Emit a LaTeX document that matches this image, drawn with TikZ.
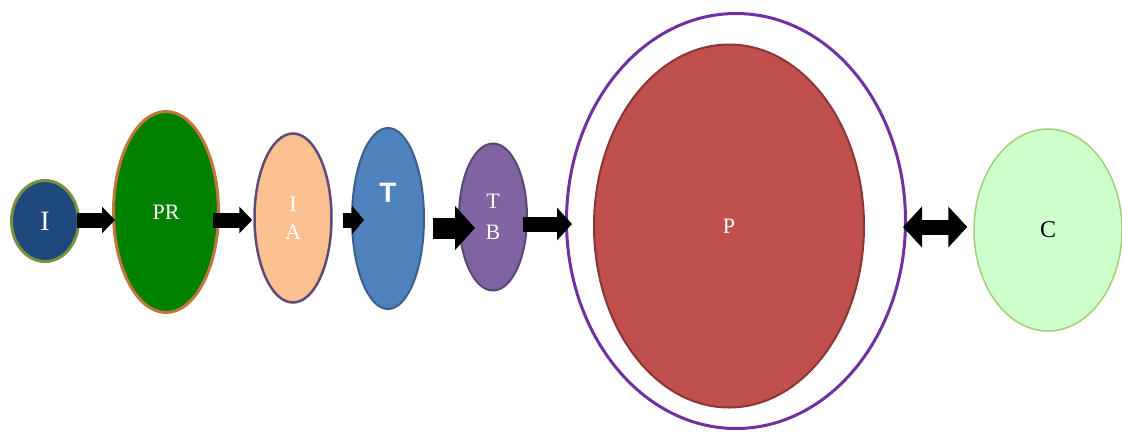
\documentclass[tikz,border=0pt]{standalone}
\usepackage{fontspec}
\setmainfont{Liberation Serif}
\newfontfamily\headfont{Liberation Sans}
\usepackage{tikz}
\usetikzlibrary{arrows.meta,shapes.geometric,positioning}
\definecolor{inkblue}{HTML}{1F497D}
\definecolor{olivebd}{HTML}{76923C}
\definecolor{leafgreen}{HTML}{008000}
\definecolor{rustbd}{HTML}{C0763C}
\definecolor{peach}{HTML}{FAC090}
\definecolor{plumbd}{HTML}{604A7B}
\definecolor{steel}{HTML}{4F81BD}
\definecolor{steelbd}{HTML}{3A5F8C}
\definecolor{lavender}{HTML}{8064A2}
\definecolor{lavenderbd}{HTML}{5C4678}
\definecolor{violetbd}{HTML}{7030A0}
\definecolor{brick}{HTML}{C0504D}
\definecolor{brickbd}{HTML}{8B3634}
\definecolor{mint}{HTML}{CCFFCC}
\definecolor{mintbd}{HTML}{A6CC7A}
\tikzstyle{blob}=[ellipse, draw, inner sep=0pt, align=center,
                  text=white, font=\fontsize{22}{28}\selectfont]
\tikzstyle{flow}=[draw=black, line width=15pt]

\begin{document}
\begin{tikzpicture}[x=1pt, y=-1pt]
        \useasboundingbox (0,0) rectangle (1122,432);

                \node[blob, fill=inkblue, draw=olivebd, line width=3pt,
                      minimum width=67pt, minimum height=81pt,
                      font=\fontsize{28}{30}\selectfont] (I) at (45,221) {I};
                \node[blob, fill=leafgreen, draw=rustbd, line width=3pt,
                      minimum width=105pt, minimum height=201pt] (PR) at (166,212) {PR};
                \node[blob, fill=peach, draw=plumbd, line width=2.5pt,
                      minimum width=77pt, minimum height=169pt] (IA) at (293,218) {I\\A};
                \node[blob, fill=steel, draw=steelbd, line width=2pt,
                      minimum width=72pt, minimum height=181pt] (T) at (388,218.5)
                      {\raisebox{52pt}{\headfont\bfseries\fontsize{28}{30}\selectfont T}};
                \node[blob, fill=lavender, draw=lavenderbd, line width=2pt,
                      minimum width=68pt, minimum height=147pt] (TB) at (493,217)
                      {\raisebox{-8pt}{\shortstack{T\\[13pt]B}}};
                \node[blob, fill=white, draw=violetbd, line width=3pt,
                      minimum width=339pt, minimum height=415pt] (ring) at (736,221) {};
                \node[blob, fill=brick, draw=brickbd, line width=2pt,
                      minimum width=270pt, minimum height=363pt] (P) at (729,226) {P};
                \node[blob, fill=mint, draw=mintbd, line width=1.5pt, text=black,
                      minimum width=148pt, minimum height=202pt,
                      font=\fontsize{24}{28}\selectfont] (C) at (1048,230) {C};

                % block arrows
                \draw[flow, -{Triangle[length=13pt,width=26pt]},
                      shorten <=-3pt, shorten >=-3pt]
                      ([yshift=1pt]I.east) -- ([yshift=-8pt]PR.west);
                \draw[flow, -{Triangle[length=13pt,width=26pt]},
                      shorten <=-7pt, shorten >=1pt]
                      ([yshift=-8pt]PR.east) -- ([yshift=-2pt]IA.west);
                \draw[flow, -{Triangle[length=12pt,width=28pt]},
                      shorten <=10pt, shorten >=-13pt]
                      ([yshift=-2pt]IA.east) -- ([yshift=-1.5pt]T.west);
                \draw[flow, line width=21pt, -{Triangle[length=20pt,width=43pt]},
                      shorten <=8pt, shorten >=-17pt]
                      ([yshift=-9.5pt]T.east) -- ([yshift=-11pt]TB.west);
                \draw[flow, -{Triangle[length=15pt,width=32pt]},
                      shorten <=-5pt, shorten >=-7pt]
                      ([yshift=-7pt]TB.east) -- ([yshift=-3pt]ring.west);
                \draw[flow, {Triangle[length=19pt,width=40pt]}-{Triangle[length=19pt,width=40pt]},
                      shorten <=-4pt, shorten >=6pt]
                      ([yshift=-6pt]ring.east) -- ([yshift=3pt]C.west);
    \end{tikzpicture}
\end{document}
